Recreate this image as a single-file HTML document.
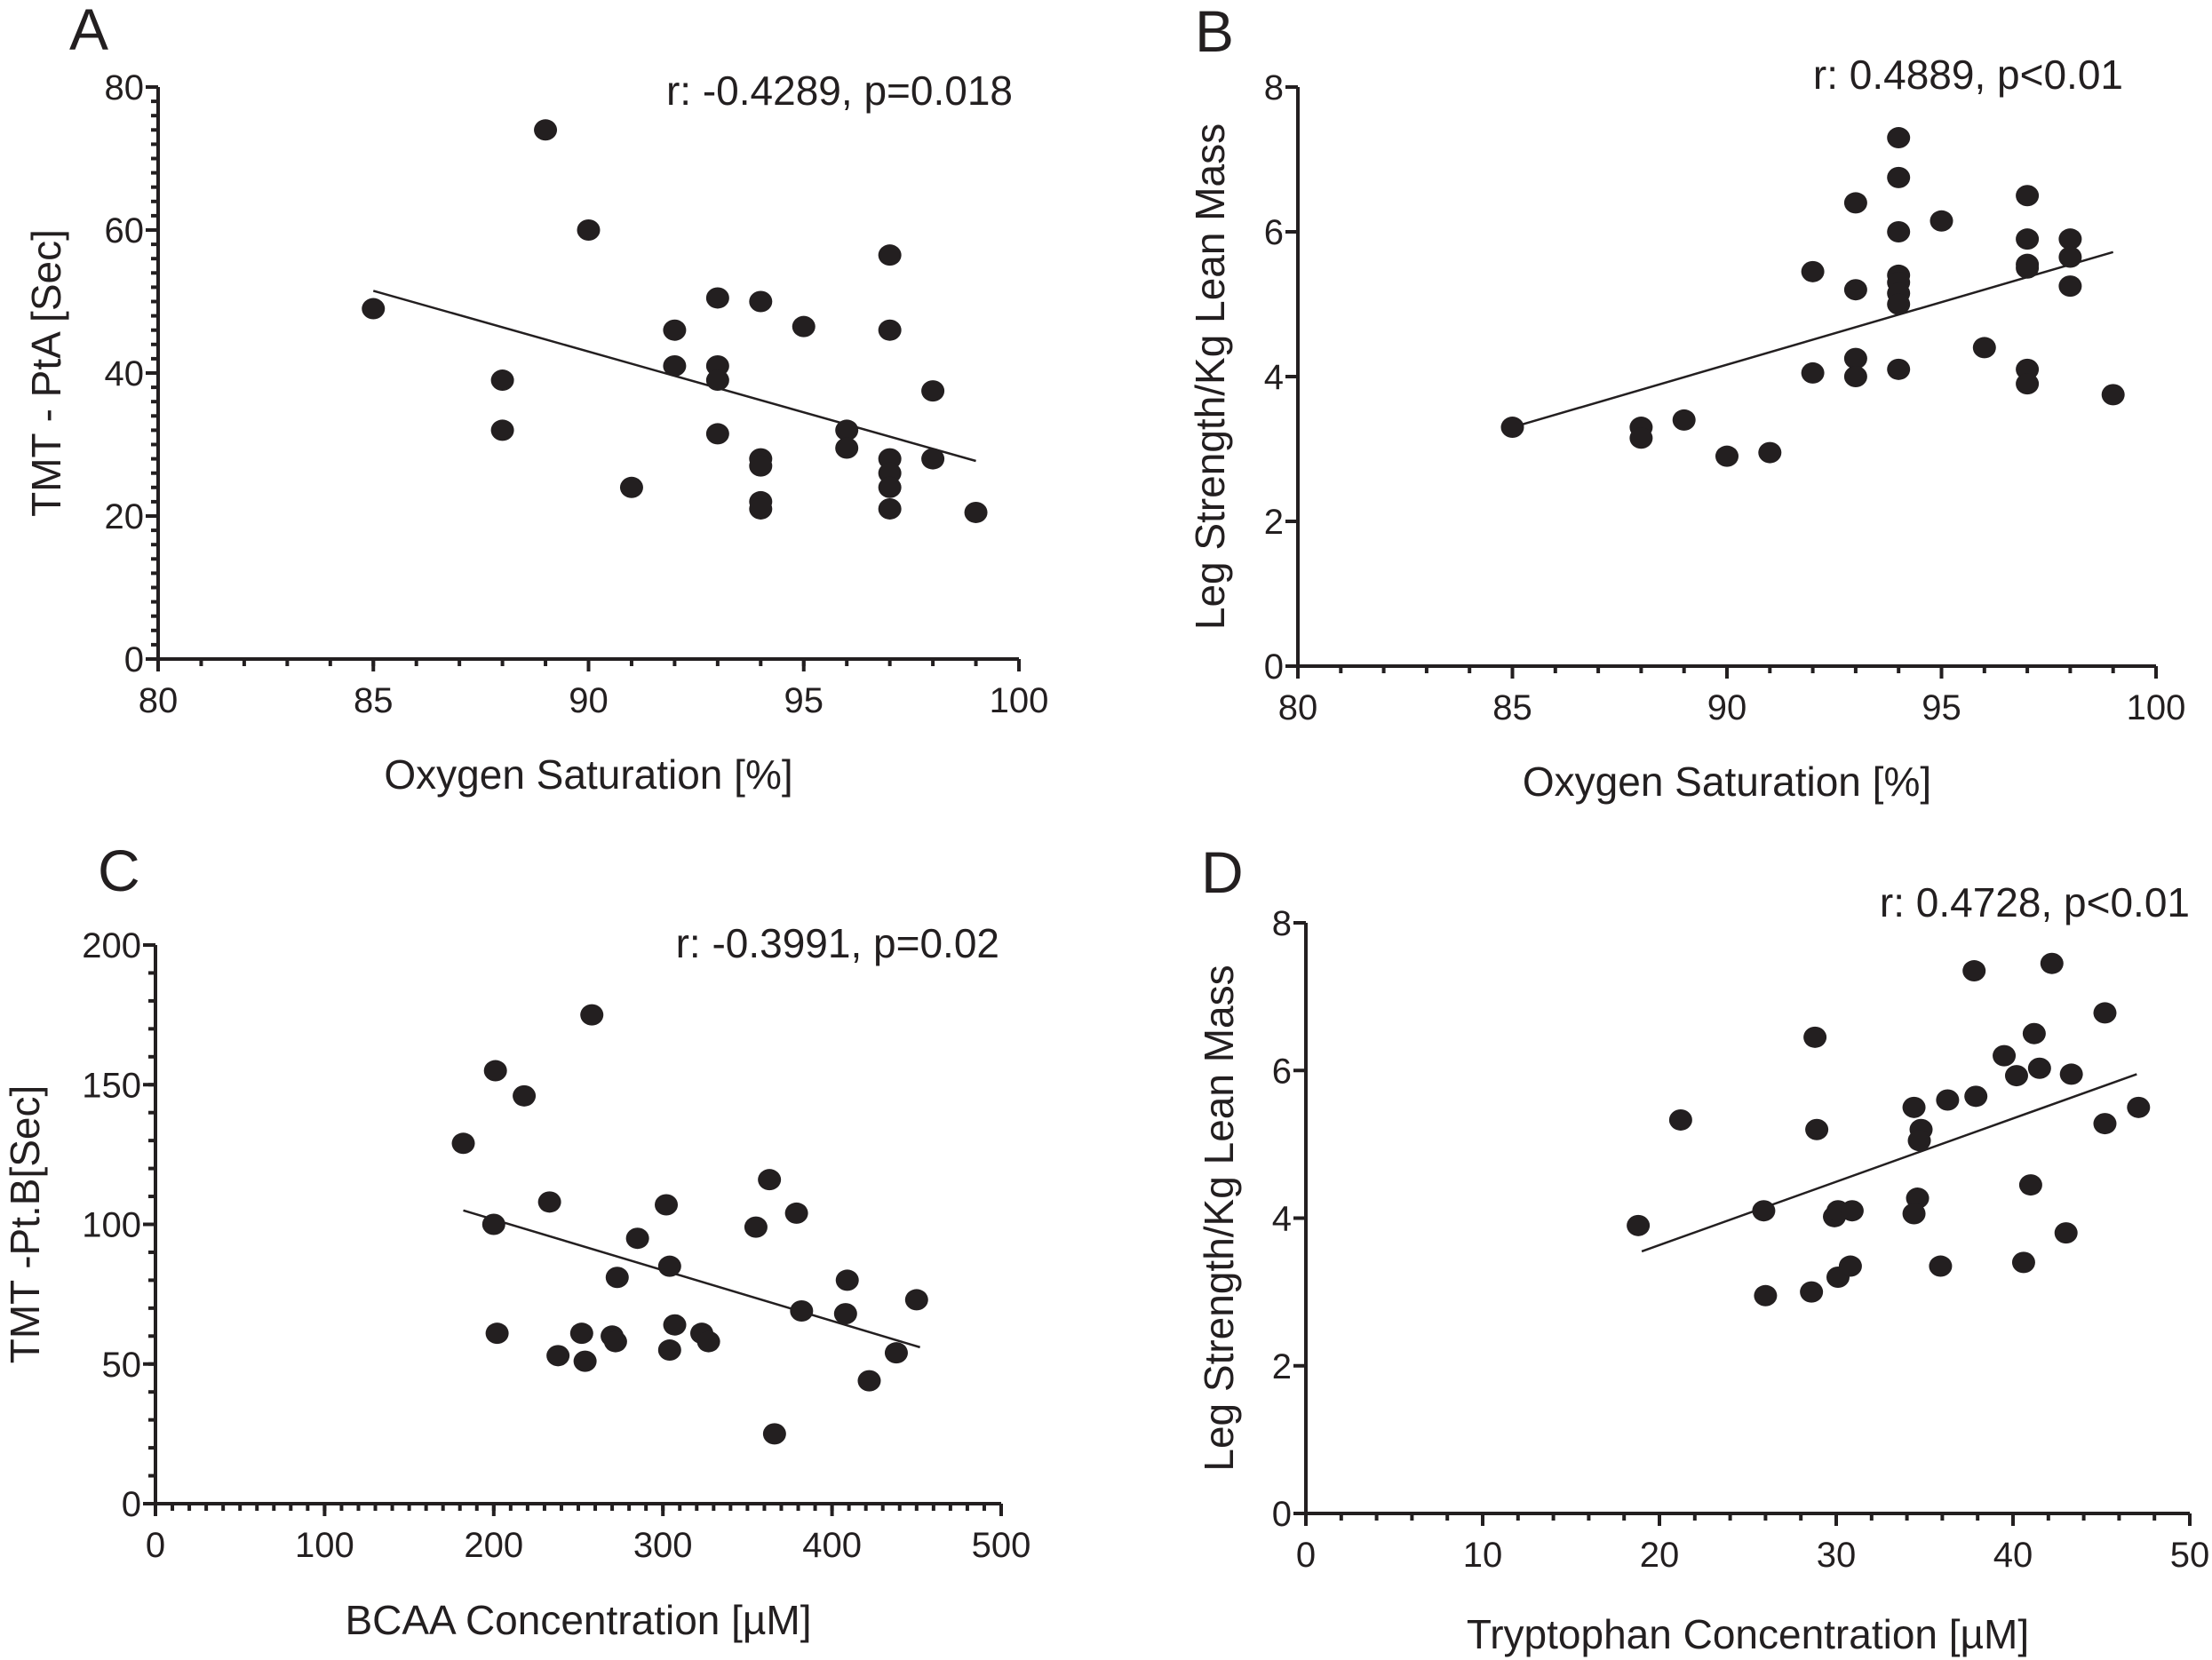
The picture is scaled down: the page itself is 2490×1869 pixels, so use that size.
<!DOCTYPE html>
<html><head><meta charset="utf-8"><style>
html,body{margin:0;padding:0;background:#fff;}
svg{display:block;}
text{font-family:"Liberation Sans",sans-serif;fill:#231f20;}
</style></head><body>
<svg id="fig" width="2490" height="1869" viewBox="0 0 2490 1869"></svg>
<script>
// Panel A
const aX=[85,88,88,89,90,91,92,92,93,93,93,93,94,94,94,94,94,95,96,96,97,97,97,97,97,97,98,98,99];
const aY=[49,39,32,74,60,24,46,41,50.5,41,39,31.5,50,28,27,22,21,46.5,32,29.5,56.5,46,28,26,24,21,37.5,28,20.5];
const aFit=[[85,51.5],[99,27.7]];
const aXTicks=[80,85,90,95,100];
const aYTicks=[0,20,40,60,80];
// Panel B
const bX=[85,88,88,89,90,91,92,92,93,93,93,93,94,94,94,94,94,94,94,94,95,96,97,97,97,97,97,97,98,98,98,99];
const bY=[3.3,3.3,3.15,3.4,2.9,2.95,5.45,4.05,6.4,5.2,4.25,4.0,7.3,6.75,6.0,5.4,5.3,5.15,5.0,4.1,6.15,4.4,6.5,5.9,5.55,5.5,4.1,3.9,5.9,5.65,5.25,3.75];
const bFit=[[85,3.3],[99,5.72]];
const bXTicks=[80,85,90,95,100];
const bYTicks=[0,2,4,6,8];
// Panel C
const cX=[182,201,218,233,200,202,238,252,254,270,272,273,285,258,302,304,307,304,323,327,355,363,379,382,366,409,408,422,438,450];
const cY=[129,155,146,108,100,61,53,61,51,60,58,81,95,175,107,85,64,55,61,58,99,116,104,69,25,80,68,44,54,73];
const cFit=[[182,105],[452,56]];
const cXTicks=[0,100,200,300,400,500];
const cYTicks=[0,50,100,150,200];
// Panel D
const dX=[18.8,21.2,25.9,26.0,28.8,28.9,28.6,29.9,30.1,30.9,30.1,30.8,34.6,34.4,34.4,34.8,34.7,36.3,35.9,37.8,37.9,39.5,40.2,41.2,41.5,42.2,43.3,40.6,41.0,43.0,45.2,45.2,47.1];
const dY=[3.9,5.33,4.1,2.95,6.45,5.2,3.0,4.02,4.1,4.1,3.2,3.35,4.27,4.06,5.5,5.2,5.05,5.6,3.35,7.35,5.65,6.2,5.93,6.5,6.03,7.45,5.95,3.4,4.45,3.8,6.78,5.28,5.5];
const dFit=[[19,3.55],[47,5.95]];
const dXTicks=[0,10,20,30,40,50];
const dYTicks=[0,2,4,6,8];

const NS="http://www.w3.org/2000/svg";
const svg=document.getElementById('fig');
function mk(tag,attrs,parent){const e=document.createElementNS(NS,tag);for(const k in attrs)e.setAttribute(k,attrs[k]);(parent||svg).appendChild(e);return e;}

const panels=[
 {id:'a',letter:'A',x0:178,x1:1147,y0:742,y1:98,xmin:80,xmax:100,ymin:0,ymax:80,xs:aX,ys:aY,fit:aFit,xt:aXTicks,yt:aYTicks,xminor:1,yminor:2,
  stat:'r: -0.4289, p=0.018',statX:1140,statY:118,xtitle:'Oxygen Saturation [%]',xtitleY:888,ytitle:'TMT - PtA [Sec]',ytitleX:68,lx:78,ly:56},
 {id:'b',letter:'B',x0:1461,x1:2427,y0:750,y1:98,xmin:80,xmax:100,ymin:0,ymax:8,xs:bX,ys:bY,fit:bFit,xt:bXTicks,yt:bYTicks,xminor:1,yminor:0,
  stat:'r: 0.4889, p<0.01',statX:2390,statY:100,xtitle:'Oxygen Saturation [%]',xtitleY:896,ytitle:'Leg Strength/Kg Lean Mass',ytitleX:1378,lx:1345,ly:58},
 {id:'c',letter:'C',x0:175,x1:1127,y0:1693,y1:1064,xmin:0,xmax:500,ymin:0,ymax:200,xs:cX,ys:cY,fit:cFit,xt:cXTicks,yt:cYTicks,xminor:10,yminor:10,
  stat:'r: -0.3991, p=0.02',statX:1125,statY:1078,xtitle:'BCAA Concentration [\u00b5M]',xtitleY:1840,ytitle:'TMT -Pt.B[Sec]',ytitleX:44,lx:110,ly:1003},
 {id:'d',letter:'D',x0:1470,x1:2465,y0:1704,y1:1039,xmin:0,xmax:50,ymin:0,ymax:8,xs:dX,ys:dY,fit:dFit,xt:dXTicks,yt:dYTicks,xminor:2,yminor:0,
  stat:'r: 0.4728, p<0.01',statX:2465,statY:1032,xtitle:'Tryptophan Concentration [\u00b5M]',xtitleY:1856,ytitle:'Leg Strength/Kg Lean Mass',ytitleX:1388,lx:1352,ly:1005}
];

panels.forEach(p=>{
  const g=mk('g',{});
  
  
  const sx=v=>p.x0+(v-p.xmin)/(p.xmax-p.xmin)*(p.x1-p.x0);
  const sy=v=>p.y0+(v-p.ymin)/(p.ymax-p.ymin)*(p.y1-p.y0);
  const lt=mk('text',{x:p.lx,y:p.ly,'font-size':66},g);lt.textContent=p.letter;
  
  
  const ax=mk('path',{d:`M${p.x0},${p.y1}V${p.y0}H${p.x1}`,stroke:'#231f20','stroke-width':4,fill:'none'},g);
  
  
  if(p.xminor){for(let v=p.xmin;v<=p.xmax+1e-9;v+=p.xminor){mk('line',{x1:sx(v),x2:sx(v),y1:p.y0,y2:p.y0+8,stroke:'#231f20','stroke-width':4},g);}}
  p.xt.forEach(v=>{
    mk('line',{x1:sx(v),x2:sx(v),y1:p.y0,y2:p.y0+14,stroke:'#231f20','stroke-width':4},g);
    const t=mk('text',{x:sx(v),y:p.y0+60,'font-size':40,'text-anchor':'middle'},g);t.textContent=v;
    
    
  });
  if(p.yminor){for(let v=p.ymin;v<=p.ymax+1e-9;v+=p.yminor){mk('line',{x1:p.x0-8,x2:p.x0,y1:sy(v),y2:sy(v),stroke:'#231f20','stroke-width':4},g);}}
  p.yt.forEach(v=>{
    mk('line',{x1:p.x0-14,x2:p.x0,y1:sy(v),y2:sy(v),stroke:'#231f20','stroke-width':4},g);
    const t=mk('text',{x:p.x0-16,y:sy(v)+14,'font-size':40,'text-anchor':'end'},g);t.textContent=v;
    
    
  });
  const xt=mk('text',{x:(p.x0+p.x1)/2,y:p.xtitleY,'font-size':46,'text-anchor':'middle'},g);xt.textContent=p.xtitle;
  
  
  const yc=(p.y0+p.y1)/2;
  const yt=mk('text',{x:p.ytitleX,y:yc,'font-size':46,'text-anchor':'middle',transform:`rotate(-90 ${p.ytitleX} ${yc})`},g);yt.textContent=p.ytitle;
  
  
  const st=mk('text',{x:p.statX,y:p.statY,'font-size':46,'text-anchor':'end'},g);st.textContent=p.stat;
  
  
  const fl=mk('line',{x1:sx(p.fit[0][0]),y1:sy(p.fit[0][1]),x2:sx(p.fit[1][0]),y2:sy(p.fit[1][1]),stroke:'#231f20','stroke-width':2.5},g);
  
  
  p.xs.forEach((v,i)=>{
    const c=mk('ellipse',{cx:sx(v),cy:sy(p.ys[i]),rx:13,ry:12,fill:'#231f20'},g);
    
    
  });
});
</script>
</body></html>
